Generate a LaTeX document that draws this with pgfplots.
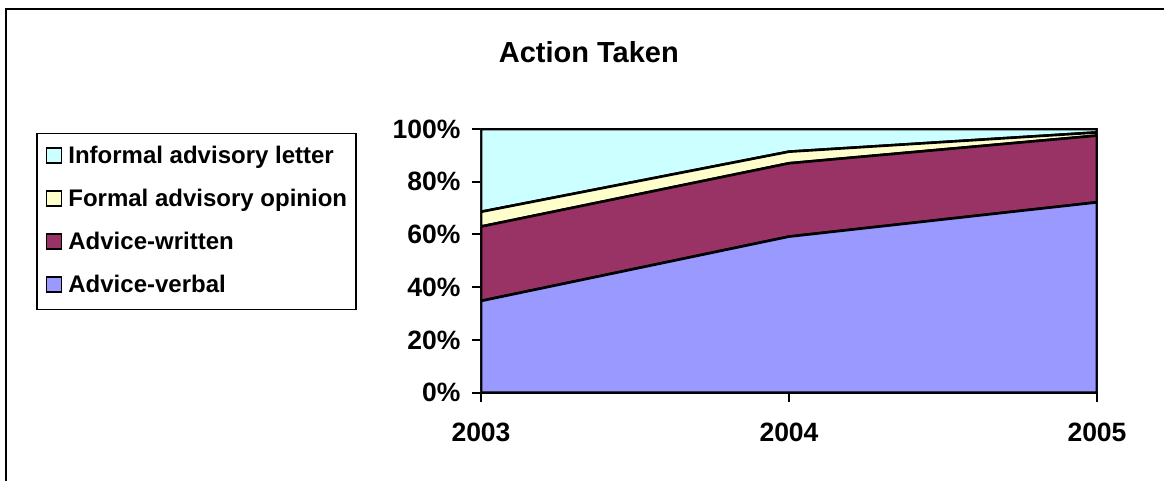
\documentclass[border=0pt]{standalone}
\usepackage{pgfplots}
\pgfplotsset{compat=1.18}
\usepackage{fontspec}
\setmainfont{Liberation Sans}
\definecolor{cInf}{HTML}{CCFFFF}
\definecolor{cFor}{HTML}{FFFFCC}
\definecolor{cWri}{HTML}{993366}
\definecolor{cVer}{HTML}{9999FF}
\begin{document}
\begin{tikzpicture}
\useasboundingbox (0,0) rectangle (1164bp,481bp);
\draw[line width=2.4bp] (6bp,0) -- (6bp,472bp) -- (1164bp,472bp);
\begin{axis}[
  at={(481bp,88.3bp)}, anchor=south west,
  scale only axis, width=616bp, height=263.7bp,
  xmin=2003, xmax=2005, ymin=0, ymax=100,
  stack plots=y,
  axis line style={line width=2.4bp},
  tick style={line width=2bp, black},
  major tick length=9.5bp,
  tick pos=left, tick align=outside,
  xtick={2003,2004,2005}, xticklabels={2003,2004,2005},
  ytick={0,20,40,60,80,100},
  yticklabels={0\%,20\%,40\%,60\%,80\%,100\%},
  tick label style={font=\bfseries\fontsize{26.5bp}{30bp}\selectfont},
  yticklabel style={inner xsep=0bp, xshift=-11bp},
  xticklabel style={inner ysep=0bp, text height=19bp, yshift=-20bp},
  title={Action Taken},
  title style={at={(0.175,1.229)}, anchor=base, font=\bfseries\fontsize{29bp}{34bp}\selectfont},
  reverse legend,
  legend cell align=left,
  legend style={at={(-0.7224,0.986)}, anchor=north west, draw=black, line width=1.8bp,
    inner xsep=9bp, inner ysep=12.5bp, row sep=21bp, column sep=6bp,
    font=\bfseries\fontsize{24bp}{28bp}\selectfont,
    nodes={inner sep=0bp, text height=17bp, text depth=5bp}},
  legend image code/.code={\draw[#1, draw=black, line width=1.5bp] (0bp,-6bp) rectangle (15bp,9bp);},
]
\addplot[fill=cVer, draw=black, line width=2.6bp] coordinates {(2003,34.8) (2004,59.2) (2005,72.2)} \closedcycle;
\addplot[fill=cWri, draw=black, line width=2.6bp] coordinates {(2003,28.2) (2004,27.8) (2005,25.3)} \closedcycle;
\addplot[fill=cFor, draw=black, line width=2.6bp] coordinates {(2003,5.6) (2004,4.4) (2005,1.2)} \closedcycle;
\addplot[fill=cInf, draw=black, line width=2.6bp] coordinates {(2003,31.4) (2004,8.6) (2005,1.3)} \closedcycle;
\legend{Advice-verbal, Advice-written, Formal advisory opinion, Informal advisory letter}
\end{axis}
\end{tikzpicture}
\end{document}
